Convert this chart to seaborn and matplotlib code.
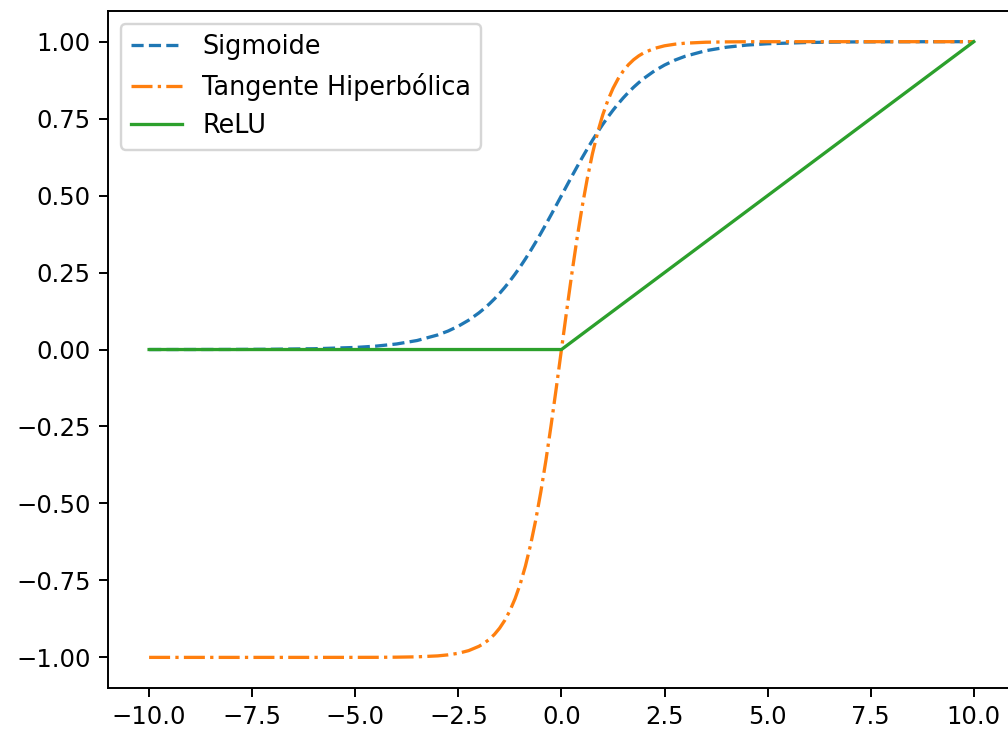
import matplotlib.pyplot as plt
import seaborn as sns

# valores
x = [-10, -9, -8, -7, -6, -5, -4.5, -4, -3.5, -3, -2.75, -2.5, -2.25,
     -2, -1.875, -1.75, -1.625, -1.5, -1.375, -1.25, -1.125,
     -1, -0.875, -0.75, -0.625, -0.5, -0.375, -0.25, -0.125, 0,
     0.125, 0.25, 0.375, 0.5, 0.625, 0.75, 0.875, 1,
     1.125, 1.25, 1.375, 1.5, 1.625, 1.75, 1.875, 2,
     2.25, 2.5, 2.75, 3, 3.5, 4, 4.5, 5, 6, 7, 8, 9, 10]

sigmoide = [0.0000, 0.0001, 0.0003, 0.0009, 0.0025, 0.0067, 0.0110, 0.0180, 0.0293, 0.0474,
            0.0600, 0.0759, 0.0953,
            0.1192, 0.1330, 0.1480, 0.1645, 0.1824, 0.2018, 0.2227, 0.2451,
            0.2689, 0.2942, 0.3208, 0.3486, 0.3775, 0.4073, 0.4378, 0.4688, 0.5000,
            0.5312, 0.5622, 0.5927, 0.6225, 0.6514, 0.6792, 0.7058, 0.7311,
            0.7549, 0.7773, 0.7982, 0.8176, 0.8355, 0.8520, 0.8670, 0.8808,
            0.9047, 0.9241, 0.9400, 0.9526, 0.9707, 0.9820, 0.9890, 0.9933, 0.9975, 0.9991,
            0.9997, 0.9999, 1.0000]

tangente = [-1.0000, -1.0000, -1.0000, -1.0000, -1.0000, -0.9999, -0.9998, -0.9993, -0.9982, -0.9951,
            -0.9918, -0.9866, -0.9780,
            -0.9640, -0.9540, -0.9414, -0.9253, -0.9051, -0.8798, -0.8483, -0.8093,
            -0.7616, -0.7039, -0.6351, -0.5546, -0.4621, -0.3584, -0.2449, -0.1244, 0.0000,
            0.1244, 0.2449, 0.3584, 0.4621, 0.5546, 0.6351, 0.7039, 0.7616,
            0.8093, 0.8483, 0.8798, 0.9051, 0.9253, 0.9414, 0.9540, 0.9640,
            0.9780, 0.9866, 0.9918, 0.9951, 0.9982, 0.9993, 0.9998, 0.9999, 1.0000, 1.0000,
            1.0000, 1.0000, 1.0000]

relu = [0, 0, 0, 0, 0, 0, 0, 0, 0, 0, 0, 0, 0,
        0, 0, 0, 0, 0, 0, 0, 0,
        0, 0, 0, 0, 0, 0, 0, 0, 0,
        0.0125, 0.025, 0.0375, 0.05, 0.0625, 0.075, 0.0875, 0.1,
        0.1125, 0.125, 0.1375, 0.15, 0.1625, 0.175, 0.1875, 0.2,
        0.225, 0.25, 0.275, 0.3, 0.35, 0.4, 0.45, 0.5, 0.6, 0.7,
        0.8, 0.9, 1.0]

fig = plt.figure(figsize=(5.76, 4.166), dpi=175)
ax = fig.add_subplot(111)
fig.subplots_adjust(left=0.107, right=1.007, top=0.985, bottom=0.056)

sns.lineplot(x=x, y=sigmoide, ax=ax, color="tab:blue", linestyle="--", linewidth=1.35, label="Sigmoide")
sns.lineplot(x=x, y=tangente, ax=ax, color="tab:orange", linestyle="-.", linewidth=1.35,
             label="Tangente Hiperbólica")
sns.lineplot(x=x, y=relu, ax=ax, color="tab:green", linestyle="-", linewidth=1.35, label="ReLU")

ax.legend(loc="upper left", fontsize=10.5)
fig.savefig("out.png", dpi=175)
